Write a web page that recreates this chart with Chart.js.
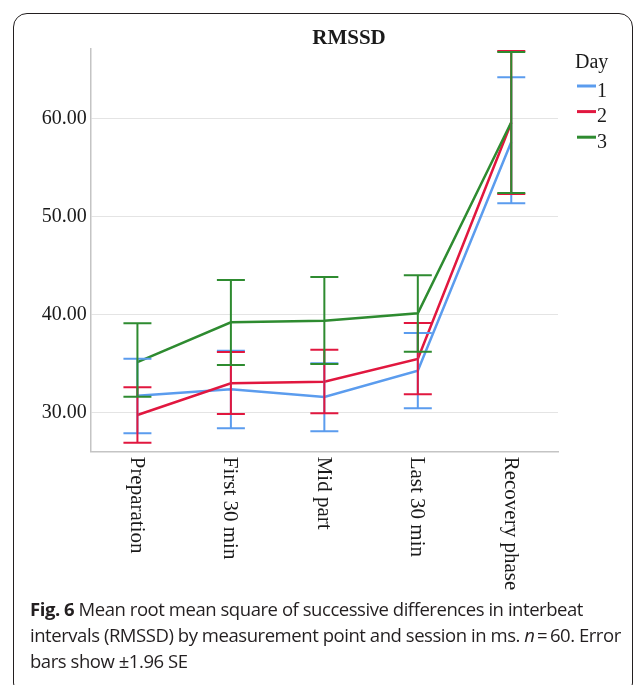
<!DOCTYPE html>
<html><head><meta charset="utf-8">
<script src="https://cdn.jsdelivr.net/npm/chart.js@4.4.1/dist/chart.umd.min.js"></script>
<style>
html,body{margin:0;padding:0;background:#fff;overflow:hidden;width:634px;height:685px;}
#frame{position:absolute;left:13px;top:13px;width:620px;height:684px;border:1.6px solid #231f20;border-radius:14px;box-sizing:border-box;}
#wrap{position:absolute;left:0;top:0;width:634px;height:600px;}
#cap{position:absolute;left:30px;top:596px;font-family:'Open Sans';font-size:18.5px;line-height:26px;color:#231f20;white-space:nowrap;}
#cap span{display:inline-block;}
</style></head>
<body>
<div id="frame"></div>
<div id="wrap"><canvas id="c"></canvas></div>
<div id="cap"><span id="l1"><b>Fig. 6</b> Mean root mean square of successive differences in interbeat</span><br><span id="l2">intervals (RMSSD) by measurement point and session in ms. <i>n</i>&#8201;=&#8201;60. Error</span><br><span id="l3">bars show ±1.96 SE</span></div>
<script>
// ---- data ----
const categories = ['Preparation', 'First 30 min', 'Mid part', 'Last 30 min', 'Recovery phase'];
const dayLabels = ['1', '2', '3'];
const day1Mean = [31.69, 32.35, 31.56, 34.24, 57.58];
const day1Low  = [27.86, 28.37, 28.06, 30.41, 51.33];
const day1High = [35.47, 36.29, 35.00, 38.09, 64.18];
const day2Mean = [29.72, 32.96, 33.12, 35.44, 59.55];
const day2Low  = [26.90, 29.83, 29.90, 31.84, 52.28];
const day2High = [32.55, 36.15, 36.39, 39.11, 66.87];
const day3Mean = [35.13, 39.18, 39.35, 40.10, 59.59];
const day3Low  = [31.59, 34.83, 34.93, 36.18, 52.38];
const day3High = [39.08, 43.50, 43.81, 43.98, 66.77];
const yTicks = [30, 40, 50, 60];
const chartTitle = 'RMSSD';
const legendTitle = 'Day';

const colors = ['#5b9cee', '#e1173f', '#2e8b30'];
const serif = "'Liberation Serif', 'Times New Roman', serif";

const errorBars = {
  id: 'errorBars',
  afterDatasetsDraw(chart) {
    const {ctx, scales: {x, y}} = chart;
    chart.data.datasets.forEach(ds => {
      ctx.save();
      ctx.strokeStyle = ds.borderColor;
      ctx.lineWidth = 2;
      ds.errLow.forEach((lo, i) => {
        const px = x.getPixelForValue(i);
        const yl = y.getPixelForValue(lo), yh = y.getPixelForValue(ds.errHigh[i]);
        ctx.beginPath();
        ctx.moveTo(px, yl); ctx.lineTo(px, yh);
        ctx.moveTo(px - 14, yl); ctx.lineTo(px + 14, yl);
        ctx.moveTo(px - 14, yh); ctx.lineTo(px + 14, yh);
        ctx.stroke();
      });
      ctx.restore();
    });
  }
};

const extras = {
  id: 'extras',
  afterDraw(chart) {
    const {ctx, scales: {x}} = chart;
    ctx.save();
    ctx.fillStyle = '#1a1a1a';
    // title
    ctx.font = 'bold 21px ' + serif;
    ctx.textAlign = 'center';
    ctx.textBaseline = 'alphabetic';
    ctx.fillText(chartTitle, 349, 43.5);
    // x labels rotated clockwise
    ctx.font = '21px ' + serif;
    categories.forEach((c, i) => {
      const px = x.getPixelForValue(i);
      ctx.save();
      ctx.translate(px - 1, x.top + 5);
      ctx.rotate(Math.PI / 2);
      ctx.textAlign = 'left';
      ctx.textBaseline = 'middle';
      ctx.fillText(c, 0, 0);
      ctx.restore();
    });
    // legend
    ctx.font = '20px ' + serif;
    ctx.textAlign = 'left';
    ctx.textBaseline = 'alphabetic';
    ctx.fillText(legendTitle, 575, 68);
    chart.data.datasets.forEach((ds, i) => {
      const ly = 86 + i * 25.6;
      ctx.strokeStyle = ds.borderColor;
      ctx.lineWidth = 3;
      ctx.beginPath(); ctx.moveTo(577, ly); ctx.lineTo(596, ly); ctx.stroke();
      ctx.fillText(ds.label, 597, ly + 10.5);
    });
    ctx.restore();
  }
};

const means = [day1Mean, day2Mean, day3Mean];
const lows = [day1Low, day2Low, day3Low];
const highs = [day1High, day2High, day3High];

new Chart(document.getElementById('c'), {
  type: 'line',
  data: {
    labels: categories,
    datasets: dayLabels.map((l, i) => ({
      label: l,
      data: means[i],
      errLow: lows[i],
      errHigh: highs[i],
      borderColor: colors[i],
      backgroundColor: colors[i],
      borderWidth: 2.5,
      pointRadius: 0,
      tension: 0,
      order: 3 - i
    }))
  },
  options: {
    responsive: true,
    maintainAspectRatio: false,
    animation: false,
    layout: {padding: {left: 0, top: 49, right: 76, bottom: 8.3}},
    plugins: {legend: {display: false}, title: {display: false}, tooltip: {enabled: false}},
    scales: {
      x: {
        type: 'category',
        offset: true,
        grid: {display: false, drawTicks: false},
        border: {color: '#c4c4c4', width: 1.5},
        ticks: {display: false},
        afterFit: s => { s.height = 140; }
      },
      y: {
        min: 25.98,
        max: 67.07,
        afterBuildTicks: s => { s.ticks = yTicks.map(v => ({value: v})); },
        afterFit: s => { s.width = 90.7; },
        grid: {color: '#e4e4e4', lineWidth: 1, drawTicks: false},
        border: {color: '#c4c4c4', width: 1.5},
        ticks: {font: {family: serif, size: 20}, color: '#1a1a1a', padding: 4, callback: v => Number(v).toFixed(2)}
      }
    }
  },
  plugins: [errorBars, extras]
});

function fitCaption() {
  const l1 = document.getElementById('l1');
  const w = l1.getBoundingClientRect().width;
  const n = l1.textContent.length;
  const ls = (553 - w) / n;
  document.getElementById('cap').style.letterSpacing = ls + 'px';
}
if (document.fonts && document.fonts.ready) document.fonts.ready.then(fitCaption); else fitCaption();
</script>
</body></html>
